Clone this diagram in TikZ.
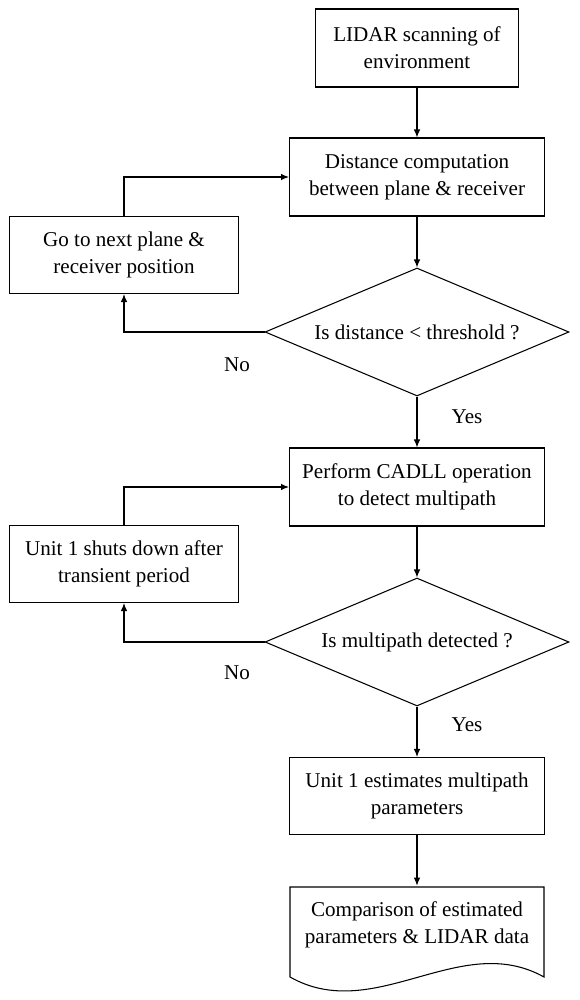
\documentclass[tikz,border=0pt]{standalone}
\usepackage{fontspec}
\setmainfont{Liberation Serif}
\usepackage{tikz}
\usetikzlibrary{shapes.geometric,arrows.meta}

\begin{document}
\begin{tikzpicture}[x=0.02cm, y=-0.02cm,
		font=\fontsize{12}{15.4}\selectfont,
		stepbox/.style={draw, line width=0.6pt, align=center, inner sep=2pt, minimum height=1.56cm},
		testbox/.style={draw, line width=0.6pt, diamond, aspect=2.375, inner sep=0pt, minimum width=6.08cm, minimum height=2.56cm, align=center},
		arr/.style={line width=0.6pt, -{Latex[length=1.6mm,width=1.3mm]}}]
			\useasboundingbox (0,0) rectangle (579,1000);
			\node[stepbox, minimum width=4.06cm] (lidar) at (417,48) {LIDAR scanning of\\environment};
			\node[stepbox, minimum width=5.1cm] (dist) at (417,177) {Distance computation\\between plane \& receiver};
			\node[stepbox, minimum width=4.58cm, minimum height=1.54cm] (goto) at (124,255) {Go to next plane \&\\receiver position};
			\node[testbox] (dist test) at (417,332) {Is distance < threshold ?};
			\node[stepbox, minimum width=5.1cm] (cadll) at (417,487) {Perform CADLL operation\\to detect multipath};
			\node[stepbox, minimum width=4.58cm, minimum height=1.54cm] (shuts) at (124,564) {Unit 1 shuts down after\\transient period};
			\node[testbox] (mp test) at (417,642) {Is multipath detected ?};
			\node[stepbox, minimum width=5.1cm, minimum height=1.54cm] (est) at (417,796) {Unit 1 estimates multipath\\parameters};
			\node[align=center, inner sep=2pt, minimum width=5.08cm, minimum height=1.56cm] (cmp) at (417,925) {Comparison of estimated\\parameters \& LIDAR data};
			\draw[line width=0.6pt] (290,887) -- (290,977) .. controls (375,1025) and (460,930) .. (544,977) -- (544,887) -- cycle;
			\node (no dist) at (237,365) {No};
			\node (yes dist) at (467,417) {Yes};
			\node (no mp) at (237,673) {No};
			\node (yes mp) at (467,725) {Yes};
			\draw[arr] (lidar) -- (dist);
			\draw[arr] (dist) -- (dist test);
			\draw[arr] (dist test.west) -| (goto.south);
			\draw[arr] (goto.north) |- (dist.west);
			\draw[arr] (dist test) -- (cadll);
			\draw[arr] (cadll) -- (mp test);
			\draw[arr] (mp test.west) -| (shuts.south);
			\draw[arr] (shuts.north) |- (cadll.west);
			\draw[arr] (mp test) -- (est);
			\draw[arr] (est) -- (cmp.north);
		\end{tikzpicture}
\end{document}
